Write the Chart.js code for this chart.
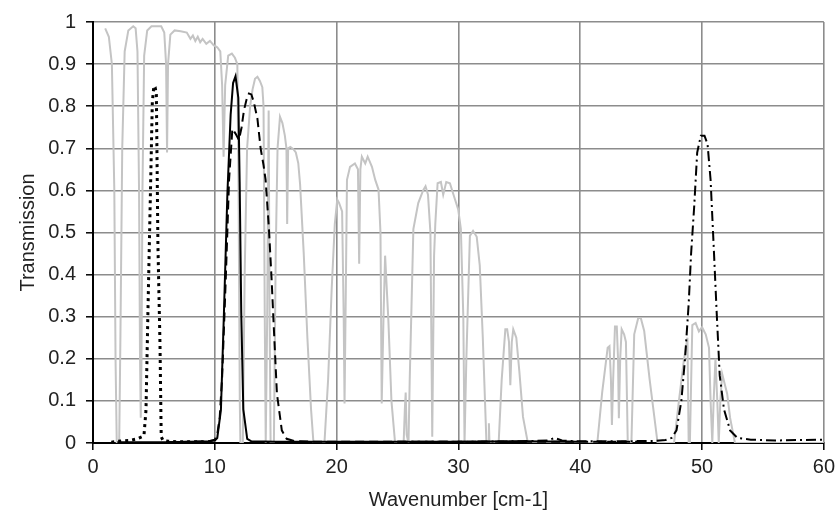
<!DOCTYPE html>
<html>
<head>
<meta charset="utf-8">
<script src="https://cdn.jsdelivr.net/npm/chart.js@4/dist/chart.umd.min.js"></script>
<style>
  body { margin: 0; background: #fff; }
  #wrap { width: 840px; height: 517px; }
</style>
</head>
<body>
<div id="wrap"><canvas id="chart"></canvas></div>
<script>
// atmospheric transmission (gray)
const atmX = [1.0, 1.3, 1.55, 1.75, 1.85, 1.95, 2.15, 2.25, 2.4, 2.6, 2.9, 3.3, 3.5, 3.65, 3.78, 3.86, 3.92, 3.98, 4.06, 4.2, 4.45, 4.8, 5.6, 5.85, 6.0, 6.08, 6.16, 6.35, 6.7, 7.2, 7.7, 8.0, 8.2, 8.4, 8.6, 8.8, 9.0, 9.3, 9.6, 9.9, 10.2, 10.45, 10.6, 10.72, 10.85, 11.1, 11.4, 11.65, 11.85, 11.95, 12.05, 12.1, 12.3, 12.45, 12.65, 12.9, 13.1, 13.3, 13.5, 13.7, 13.9, 14.0, 14.1, 14.18, 14.3, 14.42, 14.5, 14.58, 14.85, 15.0, 15.15, 15.35, 15.55, 15.75, 15.88, 15.94, 16.02, 16.2, 16.45, 16.65, 16.85, 17.0, 17.3, 17.6, 17.9, 18.1, 19.0, 19.3, 19.6, 19.85, 20.05, 20.2, 20.45, 20.58, 20.65, 20.75, 20.85, 21.1, 21.5, 21.75, 21.85, 21.95, 22.07, 22.35, 22.55, 22.9, 23.17, 23.44, 23.6, 23.7, 23.85, 23.98, 24.25, 24.5, 24.8, 25.5, 25.6, 25.67, 25.75, 25.9, 26.0, 26.3, 26.7, 27.1, 27.3, 27.5, 27.7, 27.85, 27.95, 28.0, 28.1, 28.29, 28.56, 28.75, 29.0, 29.3, 29.7, 29.98, 30.2, 30.4, 30.5, 30.65, 30.94, 31.2, 31.5, 31.75, 32.0, 32.3, 32.45, 32.5, 32.55, 33.3, 33.55, 33.85, 34.0, 34.15, 34.26, 34.38, 34.5, 34.75, 35.0, 35.3, 35.7, 41.4, 41.8, 42.25, 42.4, 42.52, 42.6, 42.7, 42.85, 43.0, 43.1, 43.17, 43.28, 43.4, 43.6, 43.75, 43.9, 44.2, 44.43, 44.76, 44.97, 45.25, 45.7, 46.35, 47.7, 48.1, 48.5, 48.8, 48.9, 49.0, 49.2, 49.47, 49.74, 50.0, 50.3, 50.57, 50.7, 50.84, 50.95, 51.1, 51.25, 51.37, 51.5, 51.65, 52.06, 52.3, 52.5, 52.7, 60];
const atmY = [0.985, 0.965, 0.9, 0.6, 0.2, 0.0, 0.0, 0.25, 0.7, 0.93, 0.98, 0.99, 0.985, 0.93, 0.6, 0.2, 0.06, 0.2, 0.6, 0.92, 0.98, 0.99, 0.99, 0.975, 0.9, 0.69, 0.9, 0.97, 0.98, 0.978, 0.975, 0.96, 0.968, 0.955, 0.965, 0.952, 0.96, 0.948, 0.955, 0.945, 0.94, 0.93, 0.85, 0.68, 0.85, 0.92, 0.925, 0.915, 0.9, 0.6, 0.1, 0.0, 0.0, 0.4, 0.7, 0.8, 0.84, 0.865, 0.87, 0.86, 0.845, 0.8, 0.3, 0.0, 0.3, 0.79, 0.3, 0.0, 0.0, 0.45, 0.7, 0.775, 0.76, 0.73, 0.7, 0.52, 0.7, 0.703, 0.698, 0.69, 0.665, 0.615, 0.45, 0.25, 0.08, 0.0, 0.0, 0.15, 0.37, 0.52, 0.578, 0.57, 0.55, 0.3, 0.094, 0.35, 0.625, 0.656, 0.664, 0.65, 0.426, 0.65, 0.68, 0.664, 0.68, 0.656, 0.625, 0.602, 0.5, 0.094, 0.3, 0.445, 0.29, 0.1, 0.0, 0.0, 0.08, 0.12, 0.02, 0.0, 0.15, 0.508, 0.57, 0.6, 0.61, 0.59, 0.5, 0.015, 0.3, 0.445, 0.52, 0.617, 0.62, 0.59, 0.62, 0.617, 0.58, 0.555, 0.508, 0.3, 0.0, 0.2, 0.492, 0.504, 0.49, 0.422, 0.25, 0.0, 0.0, 0.047, 0.0, 0.0, 0.15, 0.27, 0.27, 0.24, 0.137, 0.24, 0.27, 0.25, 0.17, 0.062, 0.0, 0.0, 0.12, 0.226, 0.23, 0.15, 0.043, 0.15, 0.277, 0.277, 0.2, 0.059, 0.2, 0.27, 0.258, 0.24, 0.0, 0.0, 0.258, 0.297, 0.297, 0.266, 0.15, 0.0, 0.0, 0.1, 0.195, 0.25, 0.0, 0.0, 0.28, 0.285, 0.265, 0.275, 0.258, 0.226, 0.1, 0.0, 0.1, 0.2, 0.1, 0.0, 0.1, 0.164, 0.117, 0.06, 0.03, 0.0, 0.0];

// filter 1 (dotted, ~5 cm-1)
const dottedX = [1.5, 2.4, 3.0, 3.64, 4.05, 4.19, 4.35, 4.51, 4.68, 4.87, 5.0, 5.1, 5.2, 5.33, 5.5, 5.6, 5.75, 6.2, 7, 8.5, 10];
const dottedY = [0.002, 0.005, 0.006, 0.01, 0.015, 0.02, 0.078, 0.312, 0.547, 0.81, 0.848, 0.845, 0.83, 0.469, 0.234, 0.015, 0.006, 0.004, 0.003, 0.003, 0.002];

// filter 2 (solid, ~11.7 cm-1)
const solidX = [2, 4, 6, 8, 9.5, 10.0, 10.2, 10.5, 10.75, 11.03, 11.3, 11.5, 11.7, 11.93, 12.04, 12.17, 12.34, 12.66, 13, 15, 20, 25, 30, 35, 40];
const solidY = [0.002, 0.002, 0.002, 0.003, 0.004, 0.006, 0.012, 0.078, 0.31, 0.59, 0.78, 0.855, 0.871, 0.82, 0.62, 0.31, 0.08, 0.01, 0.004, 0.003, 0.003, 0.003, 0.003, 0.004, 0.003];

// filter 3 (dashed, ~13 cm-1)
const dashedX = [6, 8, 9.5, 10.0, 10.2, 10.4, 10.6, 10.9, 11.17, 11.44, 11.7, 11.98, 12.2, 12.39, 12.6, 12.8, 13.0, 13.2, 13.5, 13.76, 14.0, 14.17, 14.44, 14.66, 14.85, 15.1, 15.5, 15.9, 16.5, 18, 20, 25, 30, 35, 40, 45];
const dashedY = [0.002, 0.003, 0.004, 0.008, 0.02, 0.06, 0.156, 0.39, 0.625, 0.746, 0.735, 0.72, 0.75, 0.79, 0.815, 0.83, 0.828, 0.81, 0.77, 0.7, 0.66, 0.625, 0.51, 0.39, 0.27, 0.117, 0.03, 0.01, 0.005, 0.003, 0.003, 0.003, 0.003, 0.003, 0.003, 0.003];

// filter 4 (dash-dot, ~50 cm-1)
const dashDotX = [25, 30, 35, 37.3, 37.9, 38.5, 40, 43, 46, 47.0, 47.5, 47.9, 48.3, 48.6, 48.9, 49.1, 49.35, 49.6, 49.9, 50.2, 50.45, 50.7, 50.95, 51.2, 51.45, 51.8, 52.3, 52.9, 54, 56, 58, 60];
const dashDotY = [0.003, 0.003, 0.004, 0.006, 0.012, 0.006, 0.004, 0.004, 0.005, 0.007, 0.012, 0.03, 0.1, 0.2, 0.33, 0.45, 0.56, 0.69, 0.73, 0.73, 0.71, 0.625, 0.47, 0.31, 0.16, 0.08, 0.03, 0.012, 0.008, 0.006, 0.007, 0.008];

const xTicks = [0, 10, 20, 30, 40, 50, 60];
const yTicks = [0, 0.1, 0.2, 0.3, 0.4, 0.5, 0.6, 0.7, 0.8, 0.9, 1];

function toPoints(xs, ys) {
  return xs.map((x, i) => ({ x: x, y: ys[i] }));
}

const FONT = "'Liberation Sans', Arial, sans-serif";

function lineSet(xs, ys, color, width, dash) {
  return {
    data: toPoints(xs, ys),
    showLine: true,
    borderColor: color,
    borderWidth: width,
    borderDash: dash,
    pointRadius: 0,
    tension: 0,
    fill: false
  };
}

new Chart(document.getElementById("chart"), {
  type: "scatter",
  data: {
    datasets: [
      lineSet(solidX, solidY, "#000", 2, []),
      lineSet(dashedX, dashedY, "#000", 2, [9, 5]),
      lineSet(dottedX, dottedY, "#000", 3, [3, 4]),
      lineSet(dashDotX, dashDotY, "#000", 2, [10, 4, 2, 4]),
      lineSet(atmX, atmY, "#c4c4c4", 2, [])
    ]
  },
  options: {
    responsive: true,
    maintainAspectRatio: false,
    animation: false,
    layout: { padding: { left: 0, right: 13, top: 17, bottom: 0 } },
    plugins: { legend: { display: false }, tooltip: { enabled: false } },
    scales: {
      x: {
        type: "linear",
        min: 0,
        max: 60,
        afterBuildTicks: s => { s.ticks = xTicks.map(v => ({ value: v })); },
        afterFit: s => { s.height = 74; },
        grid: { color: "#8c8c8c", lineWidth: 1.6, tickLength: 7, tickColor: "#000", tickWidth: 1.5 },
        border: { color: "#000", width: 2 },
        ticks: { color: "#222", padding: 5, maxRotation: 0, font: { family: FONT, size: 20 } },
        title: {
          display: true,
          text: "Wavenumber [cm-1]",
          color: "#222",
          padding: { top: 0, bottom: 5 },
          font: { family: FONT, size: 20 }
        }
      },
      y: {
        min: 0,
        max: 1,
        afterBuildTicks: s => { s.ticks = yTicks.map(v => ({ value: v })); },
        afterFit: s => { s.width = 93; },
        grid: { color: "#8c8c8c", lineWidth: 1.6, tickLength: 7, tickColor: "#000", tickWidth: 1.5 },
        border: { color: "#000", width: 2 },
        ticks: {
          color: "#222",
          padding: 10,
          font: { family: FONT, size: 20 },
          callback: v => String(Number(v.toFixed(1)))
        },
        title: {
          display: true,
          text: "Transmission",
          color: "#222",
          padding: { top: 16, bottom: 0 },
          font: { family: FONT, size: 20 }
        }
      }
    }
  }
});
</script>
</body>
</html>
